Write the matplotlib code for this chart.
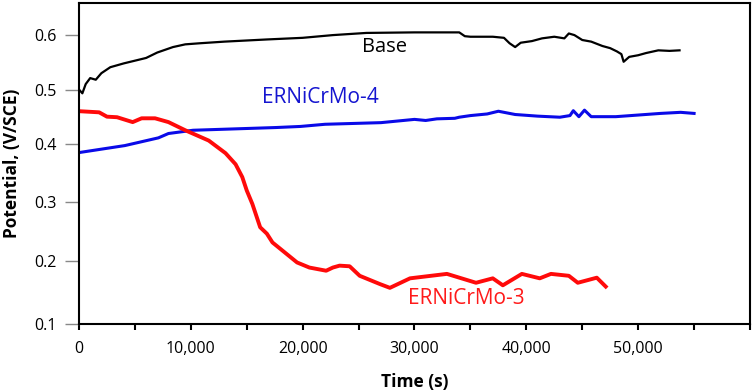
#!/usr/bin/env python3
# Open-circuit potential vs time for the base metal and two weld fillers.

import matplotlib

matplotlib.use("Agg")

import matplotlib.pyplot as plt
import numpy as np
from matplotlib.ticker import FixedLocator, FuncFormatter, MultipleLocator

# --- data (time in s, potential in V/SCE) ---
base_time = [0, 300, 600, 1000, 1500, 2000, 2800, 4000, 5000, 6000, 7000,
             8400, 9500, 10800, 13000, 16800, 20000, 22700, 25700, 30000,
             34000, 34500, 35000, 37000, 38000, 38500, 39000, 39500, 40500,
             41400, 42500, 43400, 43800, 44300, 45000, 45800, 46800, 47500,
             48100, 48500, 48700, 49200, 50000, 50700, 51800, 52800, 53700]
base_potential = [0.500, 0.493, 0.510, 0.521, 0.518, 0.530, 0.541, 0.548,
                  0.553, 0.558, 0.568, 0.578, 0.583, 0.585, 0.588, 0.592,
                  0.595, 0.600, 0.604, 0.605, 0.605, 0.598, 0.597, 0.597,
                  0.595, 0.585, 0.578, 0.586, 0.589, 0.594, 0.597, 0.594,
                  0.603, 0.600, 0.591, 0.588, 0.580, 0.576, 0.570, 0.565,
                  0.551, 0.560, 0.563, 0.567, 0.572, 0.571, 0.572]

mo4_time = [0, 4100, 7100, 8000, 10200, 17600, 19800, 22000, 27000,
            30000, 31000, 32000, 33600, 34000, 35000, 36500, 37500, 38000,
            39000, 41000, 43000, 43900, 44200, 44700, 45200, 45800, 46500,
            48000, 50000, 52000, 53800, 55000]
mo4_potential = [0.385, 0.397, 0.411, 0.419, 0.425, 0.430, 0.432,
                 0.436, 0.439, 0.445, 0.443, 0.446, 0.447, 0.449, 0.452,
                 0.455, 0.460, 0.458, 0.454, 0.451, 0.449, 0.452, 0.461,
                 0.450, 0.462, 0.450, 0.450, 0.450, 0.453, 0.456, 0.458,
                 0.456]

mo3_time = [90, 1800, 2500, 3400, 4800, 5600, 6800, 8000, 9500, 11600,
            13100, 14000, 14600, 15000, 15500, 16200, 16800, 17300, 18200,
            19500, 20600, 22100, 22700, 23300, 24200, 25100, 26900, 27800,
            29600, 32900, 35500, 37000, 37900, 39600, 41200, 42200, 43800,
            44600, 46300, 47100]
mo3_potential = [0.460, 0.458, 0.450, 0.449, 0.440, 0.447, 0.447, 0.440,
                 0.425, 0.406, 0.384, 0.365, 0.343, 0.320, 0.297, 0.257,
                 0.246, 0.231, 0.217, 0.197, 0.189, 0.184, 0.189, 0.192,
                 0.191, 0.176, 0.163, 0.157, 0.172, 0.179, 0.165, 0.172,
                 0.161, 0.179, 0.172, 0.179, 0.176, 0.165, 0.173, 0.159]

x_ticks = [0, 10000, 20000, 30000, 40000, 50000]
y_ticks = [0.1, 0.2, 0.3, 0.4, 0.5, 0.6]

# the original axis is not evenly spaced; warp it to match
warp_values = [0.0, 0.1, 0.2, 0.3, 0.4, 0.5, 0.6, 1.0]
warp_pos = [-63.3, 0.0, 63.3, 121.6, 179.8, 234.0, 288.3, 505.5]


def forward(v):
    return np.interp(v, warp_values, warp_pos)


def inverse(p):
    return np.interp(p, warp_pos, warp_values)


plt.rcParams["font.family"] = ["Open Sans", "DejaVu Sans"]

fig = plt.figure(figsize=(7.54, 3.92), dpi=100)
ax = fig.add_axes((79 / 754, 68 / 392, 671 / 754, 321 / 392))

ax.plot(base_time, base_potential, color="black", linewidth=1.6)
ax.plot(mo4_time, mo4_potential, color="#0a0ae8", linewidth=2.2)
ax.plot(mo3_time, mo3_potential, color="#ff0a0a", linewidth=2.8)

ax.text(25300, 0.578, "Base", fontsize=14.5, color="black", va="center")
ax.text(16400, 0.486, "ERNiCrMo-4", fontsize=15, color="#1515d0", va="center")
ax.text(29400, 0.140, "ERNiCrMo-3", fontsize=15, color="#ff1a1a", va="center")

ax.set_yscale("function", functions=(forward, inverse))
ax.set_xlim(0, 60000)
ax.set_ylim(0.1, 0.659)

ax.xaxis.set_major_locator(FixedLocator(x_ticks))
ax.xaxis.set_minor_locator(MultipleLocator(5000))
ax.xaxis.set_major_formatter(FuncFormatter(lambda v, _: f"{v:,.0f}"))
ax.yaxis.set_major_locator(FixedLocator(y_ticks))
ax.yaxis.set_minor_locator(FixedLocator([]))
ax.yaxis.set_major_formatter(FuncFormatter(lambda v, _: f"{v:.1f}"))

ax.tick_params(axis="x", which="both", direction="out", length=4, width=1.5,
               color="black", labelsize=11.5, pad=8)
ax.tick_params(axis="y", which="major", direction="out", length=10, width=1,
               color="#888888", labelsize=11.5, pad=6)

for spine in ax.spines.values():
    spine.set_linewidth(1.5)

ax.set_xlabel("Time (s)", fontsize=12.5, fontweight="bold", labelpad=12)
ax.set_ylabel("Potential, (V/SCE)", fontsize=12.5, fontweight="bold", labelpad=9.5)

fig.savefig("out.png", dpi=100)
